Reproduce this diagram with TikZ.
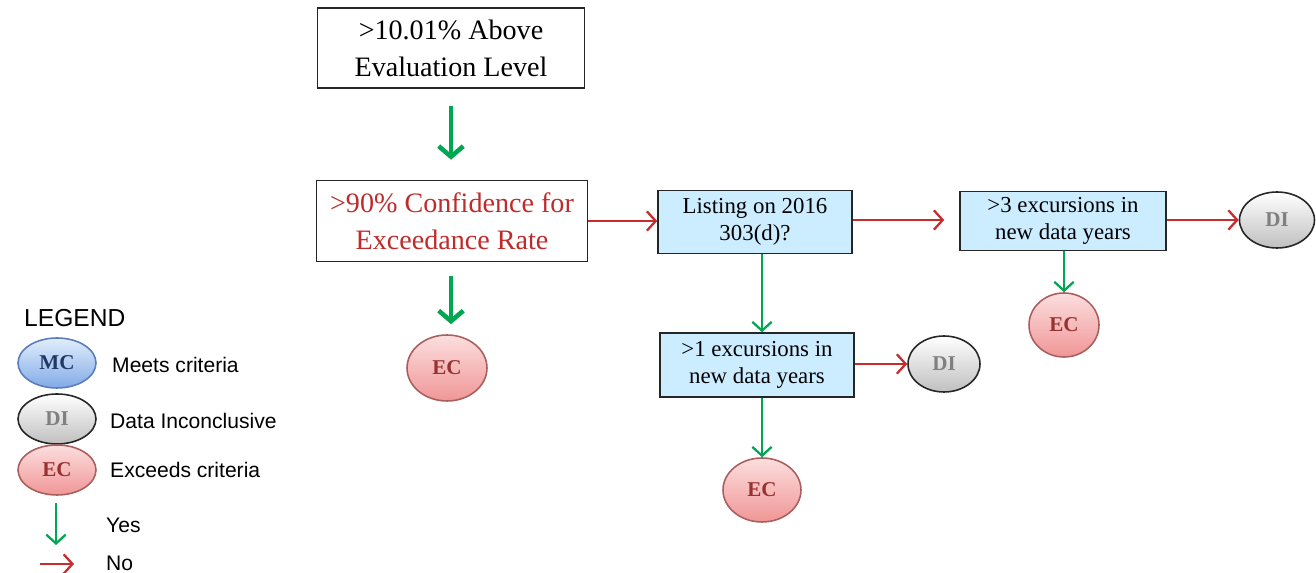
\documentclass[tikz,border=0pt]{standalone}
\usepackage{fontspec}
\setmainfont{Liberation Serif}
\setsansfont{Liberation Sans}
\usetikzlibrary{shapes.geometric,arrows.meta}
\definecolor{yesgreen}{RGB}{0,166,81}
\definecolor{nored}{RGB}{200,45,45}
\definecolor{boxblue}{RGB}{204,236,255}
\definecolor{ecline}{RGB}{170,95,95}
\definecolor{ectext}{RGB}{150,50,50}
\definecolor{ectop}{RGB}{252,222,222}
\definecolor{ecbottom}{RGB}{240,150,150}
\definecolor{ditext}{RGB}{128,128,128}
\definecolor{mcline}{RGB}{90,125,190}
\definecolor{mctext}{RGB}{31,56,100}
\definecolor{mctop}{RGB}{225,238,252}
\definecolor{mcbottom}{RGB}{130,170,230}
\begin{document}
\begin{tikzpicture}[x=0.02cm, y=-0.02cm,
    box/.style={draw=black!85, line width=0.9pt, fill=white, align=center, inner sep=1pt,
      font=\fontsize{16}{21}\selectfont},
    qbox/.style={draw=black!85, line width=0.9pt, fill=boxblue, align=center, inner sep=1pt,
      font=\fontsize{13}{15.5}\selectfont},
    oval/.style={ellipse, line width=0.9pt, inner sep=0pt, font=\bfseries\fontsize{12}{14}\selectfont},
    ecoval/.style={oval, draw=ecline, top color=ectop, bottom color=ecbottom, text=ectext},
    dioval/.style={oval, draw=black!85, top color=white, bottom color=black!25, text=ditext},
    mcoval/.style={oval, draw=mcline, top color=mctop, bottom color=mcbottom, text=mctext},
    yes/.style={yesgreen, line width=1.3pt, -{Straight Barb[length=5pt,width=11pt,line width=1.3pt]}},
    bigyes/.style={yesgreen, line width=2.6pt, -{Straight Barb[length=6pt,width=14pt,line width=2.6pt]}},
    no/.style={nored, line width=1.3pt, -{Straight Barb[length=5pt,width=11pt,line width=1.3pt]}},
    legtext/.style={anchor=west, font=\sffamily\fontsize{12}{14}\selectfont}
  ]
  \useasboundingbox (0,0) rectangle (1316,573);

  % Riquadri principali
  \node[box, minimum width=5.34cm, minimum height=1.6cm] (above) at (451,48)
    {>10.01\% Above\\Evaluation Level};
  \node[box, text=nored!95!black, minimum width=5.42cm, minimum height=1.62cm] (conf) at (452,221)
    {>90\% Confidence for\\Exceedance Rate};
  \node[ecoval, minimum width=1.6cm, minimum height=1.32cm] (ec1) at (447,368) {EC};

  % Domande (riquadri azzurri)
  \node[qbox, minimum width=3.88cm, minimum height=1.26cm] (list) at (755,222)
    {Listing on 2016\\303(d)?};
  \node[qbox, minimum width=4.12cm, minimum height=1.18cm] (three) at (1063,221)
    {>3 excursions in\\new data years};
  \node[qbox, minimum width=3.88cm, minimum height=1.28cm] (one) at (757,365)
    {>1 excursions in\\new data years};

  % Esiti
  \node[dioval, minimum width=1.5cm, minimum height=1.12cm] (di3) at (1277,220) {DI};
  \node[ecoval, minimum width=1.4cm, minimum height=1.28cm] (ec3) at (1064,325) {EC};
  \node[dioval, minimum width=1.44cm, minimum height=1.12cm] (di1) at (944,364) {DI};
  \node[ecoval, minimum width=1.56cm, minimum height=1.28cm] (ec2) at (762,490) {EC};

  % Frecce Sì
  \draw[bigyes, shorten <=0.34cm, shorten >=0.4cm] (above.south -| 451,0) -- (conf.north -| 451,0);
  \draw[bigyes, shorten <=0.28cm, shorten >=0.2cm] (conf.south -| 451,0) -- (ec1.north -| 451,0);
  \draw[yes] (list.south -| 762,0) -- (one.north -| 762,0);
  \draw[yes] (one.south -| ec2) -- (ec2);
  \draw[yes] (three.south -| ec3) -- (ec3);

  % Frecce No
  \draw[no] (conf.east) -- (conf.east -| list.west);
  \draw[no, shorten >=0.3cm] (list.east |- 0,220) -- (three.west |- 0,220);
  \draw[no] (three.east |- di3) -- (di3);
  \draw[no] (one.east |- di1) -- (di1);

  % Legenda
  \node[anchor=west, font=\sffamily\fontsize{14}{16}\selectfont] (leg) at (18,318) {LEGEND};
  \node[mcoval, minimum width=1.56cm, minimum height=1.0cm] (mc) at (57,363) {MC};
  \node[legtext] (mctxt) at (106,365) {Meets criteria};
  \node[dioval, minimum width=1.56cm, minimum height=1.0cm] (dileg) at (57,419) {DI};
  \node[legtext] (ditxt) at (104,421) {Data Inconclusive};
  \node[ecoval, minimum width=1.56cm, minimum height=1.0cm] (ecleg) at (57,470) {EC};
  \node[legtext] (ectxt) at (104,470) {Exceeds criteria};
  \draw[yes] (56,503) -- (56,545);
  \node[legtext] (yestxt) at (100,525) {Yes};
  \draw[no] (40,564) -- (74,564);
  \node[legtext] (notxt) at (100,563) {No};
\end{tikzpicture}
\end{document}
